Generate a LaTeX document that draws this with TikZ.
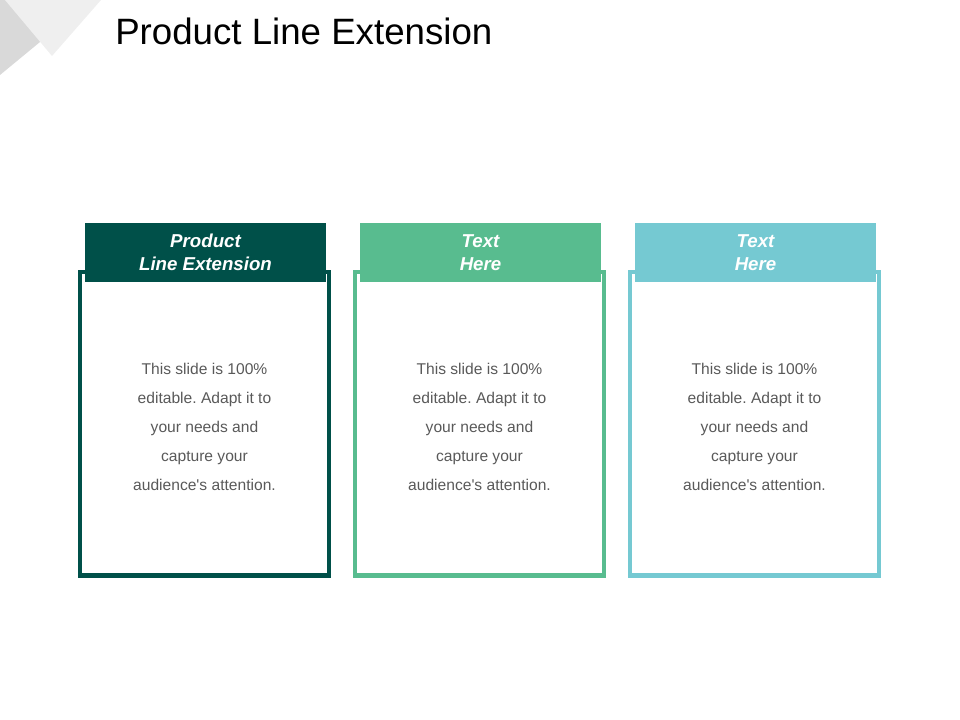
\documentclass[tikz,border=0pt]{standalone}
\usepackage{fontspec}
\setmainfont{Liberation Sans}
\usepackage{xcolor}
\definecolor{darkteal}{RGB}{0,80,73}
\definecolor{midgreen}{RGB}{88,188,143}
\definecolor{lightteal}{RGB}{117,201,210}
\definecolor{bodygray}{RGB}{89,89,89}
\definecolor{cornerdark}{RGB}{217,217,217}
\definecolor{cornerlight}{RGB}{239,239,239}
\frenchspacing

\tikzset{
    frame/.style={line width=3.2pt},
    header/.style={rectangle, inner sep=0pt, minimum width=180.75pt, minimum height=44.25pt, text=white, align=center, font=\fontsize{14}{17.25}\selectfont\bfseries\itshape},
    bodytext/.style={inner sep=0pt, text=bodygray, align=center, font=\fontsize{11.7}{21.75}\selectfont}
}

\begin{document}
\begin{tikzpicture}[x=0.75pt,y=0.75pt,yscale=-1,xscale=1]
    \useasboundingbox (0,0) rectangle (960,720); %set diagram to the 960 x 720 slide

    %Shape: Corner [dark]
    \fill [cornerdark] (0,0) -- (40,0) -- (40,42) -- (0,75) -- cycle ;
    %Shape: Corner [light]
    \fill [cornerlight] (5,0) -- (101,0) -- (52,56) -- cycle ;

    % Text Node
    \node (title) [anchor=base west, inner sep=0pt, font=\fontsize{27.5}{33}\selectfont] at (115,45) {Product Line Extension};

    %Shape: Rectangle [frame 1]
    \draw [frame, draw=darkteal] (80.2,272) rectangle (328.8,575.6) ;
    %Shape: Rectangle [frame 2]
    \draw [frame, draw=midgreen] (355.2,272) rectangle (603.8,575.6) ;
    %Shape: Rectangle [frame 3]
    \draw [frame, draw=lightteal] (630.2,272) rectangle (878.8,575.6) ;

    % Header Node
    \node (head1) [header, fill=darkteal] at (205.5,252.2) {Product\\Line Extension};
    % Header Node
    \node (head2) [header, fill=midgreen] at (480.5,252.2) {Text\\Here};
    % Header Node
    \node (head3) [header, fill=lightteal] at (755.5,252.2) {Text\\Here};

    % Text Node
    \node (body1) [bodytext] at (204.5,427) {This slide is 100\%\\editable. Adapt it to\\your needs and\\capture your\\audience\textquotesingle s attention.};
    % Text Node
    \node (body2) [bodytext] at (479.5,427) {This slide is 100\%\\editable. Adapt it to\\your needs and\\capture your\\audience\textquotesingle s attention.};
    % Text Node
    \node (body3) [bodytext] at (754.5,427) {This slide is 100\%\\editable. Adapt it to\\your needs and\\capture your\\audience\textquotesingle s attention.};

\end{tikzpicture}
\end{document}
